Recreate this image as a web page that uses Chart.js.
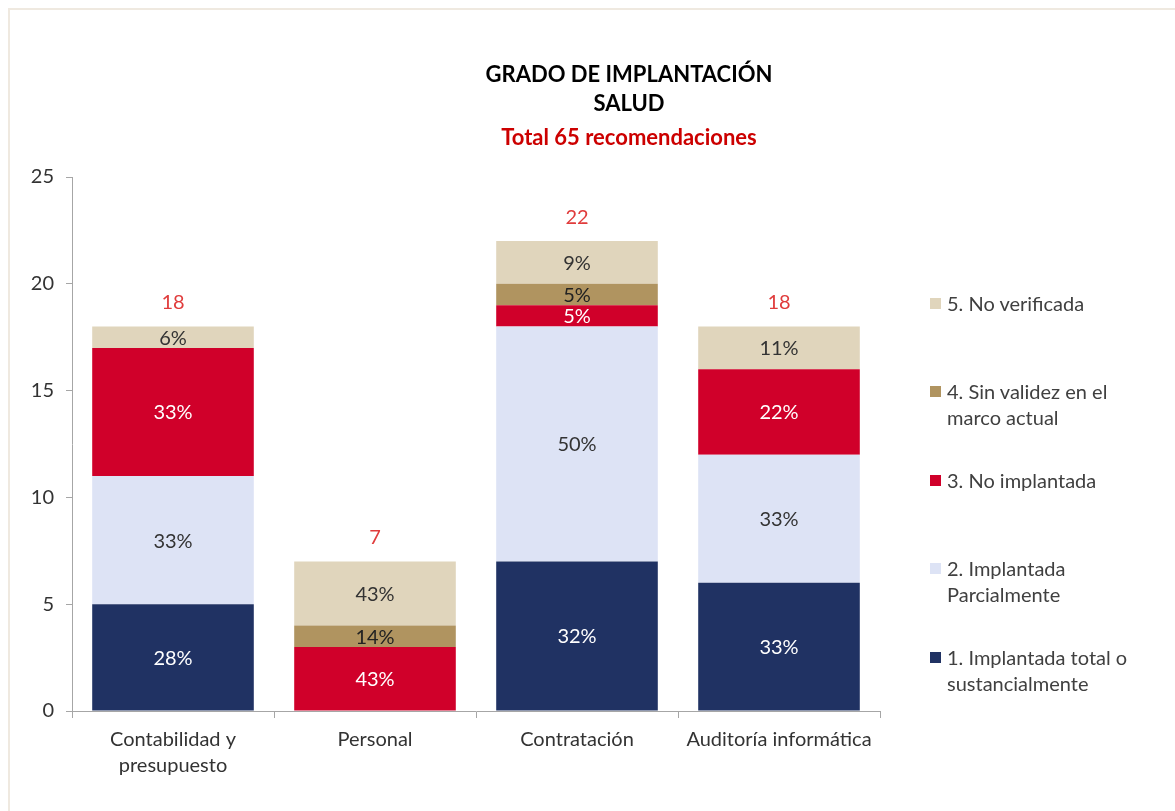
<!DOCTYPE html>
<html>
<head>
<meta charset="utf-8">
<script src="https://cdn.jsdelivr.net/npm/chart.js@4.4.1/dist/chart.umd.min.js"></script>
<style>
  html, body { margin: 0; padding: 0; background: #fff; }
  body { width: 1175px; height: 811px; position: relative; overflow: hidden; font-family: Lato, "Open Sans", sans-serif; }
  #frame { position: absolute; left: 8px; top: 8px; width: 1180px; height: 820px; border: 2px solid #efe9e0; box-sizing: border-box; }
  #wrap { position: absolute; left: 0; top: 0; width: 1175px; height: 811px; }
  .title { position: absolute; left: 379px; width: 500px; text-align: center; font-weight: bold; font-size: 22px; line-height: 28px; color: #000; }
  #legend { position: absolute; left: 930px; top: 0; }
  .item { position: absolute; left: 0; width: 240px; font-size: 20px; line-height: 26px; color: #404040; padding-left: 17px; white-space: nowrap; }
  .sw { position: absolute; left: 0; top: 8px; width: 11px; height: 11px; }
</style>
</head>
<body>
<div id="frame"></div>
<div id="wrap"><canvas id="chart" width="1175" height="811"></canvas></div>
<div class="title" style="top:60px">GRADO DE IMPLANTACIÓN</div>
<div class="title" style="top:89px">SALUD</div>
<div class="title" style="top:123px;color:#cc0000">Total 65 recomendaciones</div>
<div id="legend"></div>
<script>
const categories = [['Contabilidad y', 'presupuesto'], 'Personal', 'Contratación', 'Auditoría informática'];
const seriesNames = ['1. Implantada total o sustancialmente', '2. Implantada Parcialmente', '3. No implantada', '4. Sin validez en el marco actual', '5. No verificada'];
const implantadaTotal = [5, 0, 7, 6];
const implantadaParcial = [6, 0, 11, 6];
const noImplantada = [6, 3, 1, 4];
const sinValidez = [0, 1, 1, 0];
const noVerificada = [1, 3, 2, 2];
const yTicks = [0, 5, 10, 15, 20, 25];

const FONT = 'Lato, "Open Sans", sans-serif';
const colors = ['#203263', '#dde3f5', '#d0002a', '#b09460', '#e0d5bc'];
const labelColors = ['#ffffff', '#333333', '#ffffff', '#222222', '#333333'];
const legendLines = [
  ['1. Implantada total o', 'sustancialmente'],
  ['2. Implantada', 'Parcialmente'],
  ['3. No implantada'],
  ['4. Sin validez en el', 'marco actual'],
  ['5. No verificada']
];
const legendTops = [644, 555, 467, 378, 290];

const seriesData = [implantadaTotal, implantadaParcial, noImplantada, sinValidez, noVerificada];
const totals = categories.map((c, i) => seriesData.reduce((s, d) => s + d[i], 0));

const labelPlugin = {
  id: 'barLabels',
  afterDatasetsDraw(chart) {
    const ctx = chart.ctx;
    ctx.save();
    ctx.textAlign = 'center';
    ctx.textBaseline = 'middle';
    ctx.font = '20px ' + FONT;
    chart.data.datasets.forEach((ds, di) => {
      const meta = chart.getDatasetMeta(di);
      meta.data.forEach((bar, i) => {
        const v = ds.data[i];
        if (!v) return;
        const pct = Math.round(v / totals[i] * 100) + '%';
        ctx.fillStyle = labelColors[di];
        ctx.fillText(pct, bar.x, (bar.y + bar.base) / 2 + 1);
      });
    });
    const yScale = chart.scales.y;
    const firstMeta = chart.getDatasetMeta(0);
    ctx.fillStyle = '#e03c3c';
    totals.forEach((t, i) => {
      ctx.fillText(String(t), firstMeta.data[i].x, yScale.getPixelForValue(t) - 24);
    });
    ctx.restore();
  }
};

new Chart(document.getElementById('chart'), {
  type: 'bar',
  data: {
    labels: categories,
    datasets: seriesData.map((d, i) => ({
      label: seriesNames[i],
      data: d,
      backgroundColor: colors[i],
      borderWidth: 0,
      categoryPercentage: 0.8,
      barPercentage: 1.0
    }))
  },
  options: {
    responsive: false,
    animation: false,
    layout: { padding: { left: 8, right: 295, top: 177, bottom: 10 } },
    plugins: { legend: { display: false }, tooltip: { enabled: false }, title: { display: false } },
    scales: {
      x: {
        stacked: true,
        grid: { offset: true, drawOnChartArea: false, tickLength: 7, color: '#a6a6a6' },
        border: { color: '#a6a6a6', width: 1 },
        ticks: { color: '#333333', font: { size: 20, family: FONT, lineHeight: 1.3 }, padding: 9, maxRotation: 0 },
        afterFit(scale) { scale.height = 90; }
      },
      y: {
        stacked: true,
        min: 0,
        max: 25,
        afterBuildTicks(scale) { scale.ticks = yTicks.map(v => ({ value: v })); },
        grid: { drawOnChartArea: false, tickLength: 6, color: '#a6a6a6' },
        border: { color: '#a6a6a6', width: 1 },
        ticks: { color: '#333333', font: { size: 20, family: FONT }, padding: 12 },
        afterFit(scale) { scale.width = 64; }
      }
    }
  },
  plugins: [labelPlugin]
});

const legend = document.getElementById('legend');
legendLines.forEach((lines, i) => {
  const item = document.createElement('div');
  item.className = 'item';
  item.style.top = legendTops[i] + 'px';
  const sw = document.createElement('span');
  sw.className = 'sw';
  sw.style.background = colors[i];
  item.appendChild(sw);
  item.appendChild(document.createTextNode(lines[0]));
  if (lines[1]) {
    item.appendChild(document.createElement('br'));
    item.appendChild(document.createTextNode(lines[1]));
  }
  legend.appendChild(item);
});
</script>
</body>
</html>
